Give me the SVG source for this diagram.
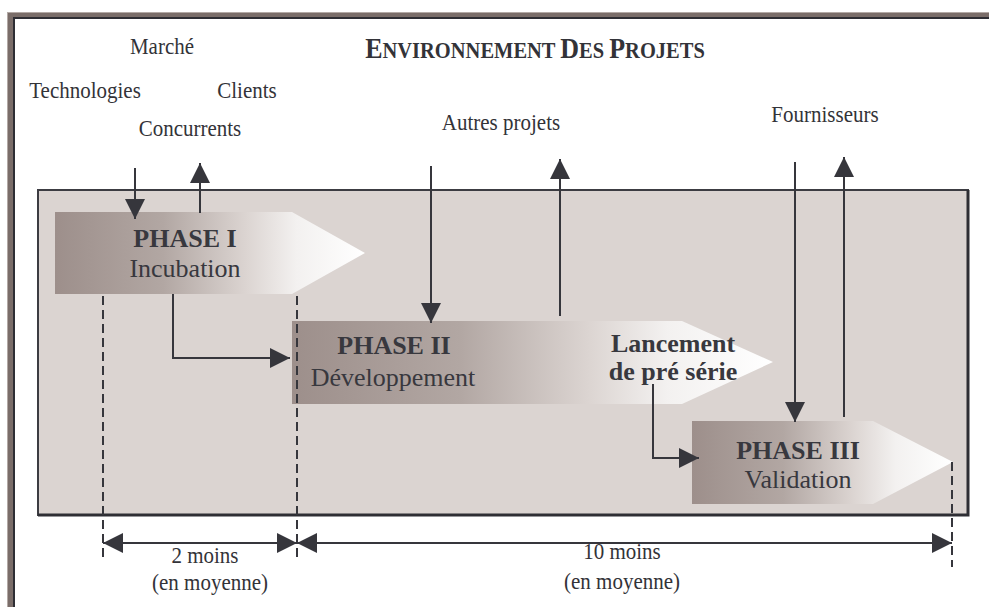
<svg xmlns="http://www.w3.org/2000/svg" width="989" height="607" viewBox="0 0 989 607">
<style>
.lbl{font-family:"Liberation Serif","Times New Roman",serif;font-size:21px;fill:#333338;text-anchor:middle}
.ph{font-family:"Liberation Serif","Times New Roman",serif;font-size:26px;fill:#38383e;text-anchor:middle}
.b{font-weight:bold}
.con{fill:none;stroke:#36363c;stroke-width:2}
.dash{fill:none;stroke:#36363c;stroke-width:2;stroke-dasharray:9 5}
</style>
<defs>
<linearGradient id="g" x1="0" y1="0" x2="1" y2="0">
<stop offset="0" stop-color="#9d8f8b"/>
<stop offset="0.35" stop-color="#b2a7a3"/>
<stop offset="0.62" stop-color="#dcd5d2"/>
<stop offset="0.78" stop-color="#f3f1f0"/>
<stop offset="1" stop-color="#ffffff"/>
</linearGradient>
<marker id="ah" markerUnits="userSpaceOnUse" markerWidth="20" markerHeight="20" refX="20" refY="10" orient="auto" viewBox="0 0 20 20">
<path d="M0,0 L20,10 L0,20 z" fill="#36363c"/>
</marker>
<marker id="as" markerUnits="userSpaceOnUse" markerWidth="20" markerHeight="20" refX="20" refY="10" orient="auto-start-reverse" viewBox="0 0 20 20">
<path d="M0,0 L20,10 L0,20 z" fill="#36363c"/>
</marker>
</defs>
<rect width="989" height="607" fill="#ffffff"/>
<g id="frame">
<rect x="7" y="12" width="1000" height="700" fill="#b3a9a5"/>
<rect x="8" y="13" width="1000" height="700" fill="#7a6d69"/>
<rect x="13" y="17" width="1000" height="700" fill="#2e2e34"/>
<rect x="15" y="19" width="1000" height="700" fill="#ffffff"/>
</g>
<g id="environment">
<rect x="38" y="190" width="930" height="325" fill="#dbd4d1" stroke="#3c3c42" stroke-width="2"/>
<path d="M968,190 V515 H38" fill="none" stroke="#2e2e34" stroke-width="3"/>
</g>
<g id="labels">
<text class="lbl" transform="translate(535,58) scale(1,1.12)" font-weight="bold"><tspan font-size="26">E</tspan><tspan font-size="20.5">NVIRONNEMENT </tspan><tspan font-size="26">D</tspan><tspan font-size="20.5">ES </tspan><tspan font-size="26">P</tspan><tspan font-size="20.5">ROJETS</tspan></text>
<text class="lbl" transform="translate(162,54) scale(1,1.12)">Marché</text>
<text class="lbl" transform="translate(85,98) scale(1,1.12)">Technologies</text>
<text class="lbl" transform="translate(247,98) scale(1,1.12)">Clients</text>
<text class="lbl" transform="translate(190,136) scale(1,1.12)">Concurrents</text>
<text class="lbl" transform="translate(501,130) scale(1,1.12)">Autres projets</text>
<text class="lbl" transform="translate(825,122) scale(1,1.12)">Fournisseurs</text>
</g>
<g id="phase1">
<path d="M55,212 H292 L365,253 L292,294 H55 z" fill="url(#g)"/>
<text class="ph b" x="185" y="247">PHASE I</text>
<text class="ph" x="185" y="277">Incubation</text>
</g>
<g id="phase2">
<path d="M292,321 H682 L773,362 L682,404 H292 z" fill="url(#g)"/>
<text class="ph b" x="394" y="354">PHASE II</text>
<text class="ph" x="393" y="386">Développement</text>
<text class="ph b" x="673" y="352" font-size="24">Lancement</text>
<text class="ph b" x="673" y="380" font-size="24">de pré série</text>
</g>
<g id="phase3">
<path d="M692,421 H873 L953,462 L873,504 H692 z" fill="url(#g)"/>
<text class="ph b" x="798" y="459">PHASE III</text>
<text class="ph" x="798" y="488">Validation</text>
</g>
<g id="connectors">
<line class="con" x1="135" y1="168" x2="135" y2="219" marker-end="url(#ah)"/>
<line class="con" x1="200" y1="213" x2="200" y2="163" marker-end="url(#ah)"/>
<path class="con" d="M173,294 V358 H290" marker-end="url(#ah)"/>
<line class="con" x1="431" y1="166" x2="431" y2="323" marker-end="url(#ah)"/>
<line class="con" x1="560" y1="316" x2="560" y2="159" marker-end="url(#ah)"/>
<line class="con" x1="795" y1="162" x2="795" y2="422" marker-end="url(#ah)"/>
<line class="con" x1="844" y1="417" x2="844" y2="157" marker-end="url(#ah)"/>
<path class="con" d="M653,384 V458 H699" marker-end="url(#ah)"/>
<line class="dash" x1="103" y1="296" x2="103" y2="562"/>
<line class="dash" x1="297" y1="296" x2="297" y2="562"/>
<line class="dash" x1="952" y1="462" x2="952" y2="567"/>
<line class="con" x1="103" y1="543" x2="297" y2="543" marker-start="url(#as)" marker-end="url(#as)"/>
<line class="con" x1="297" y1="543" x2="952" y2="543" marker-start="url(#as)" marker-end="url(#as)"/>
</g>
<g id="durations">
<text class="lbl" transform="translate(205,563) scale(1,1.08)">2 moins</text>
<text class="lbl" transform="translate(210,590) scale(1,1.08)">(en moyenne)</text>
<text class="lbl" transform="translate(622,559) scale(1,1.08)">10 moins</text>
<text class="lbl" transform="translate(622,589) scale(1,1.08)">(en moyenne)</text>
</g>
</svg>
